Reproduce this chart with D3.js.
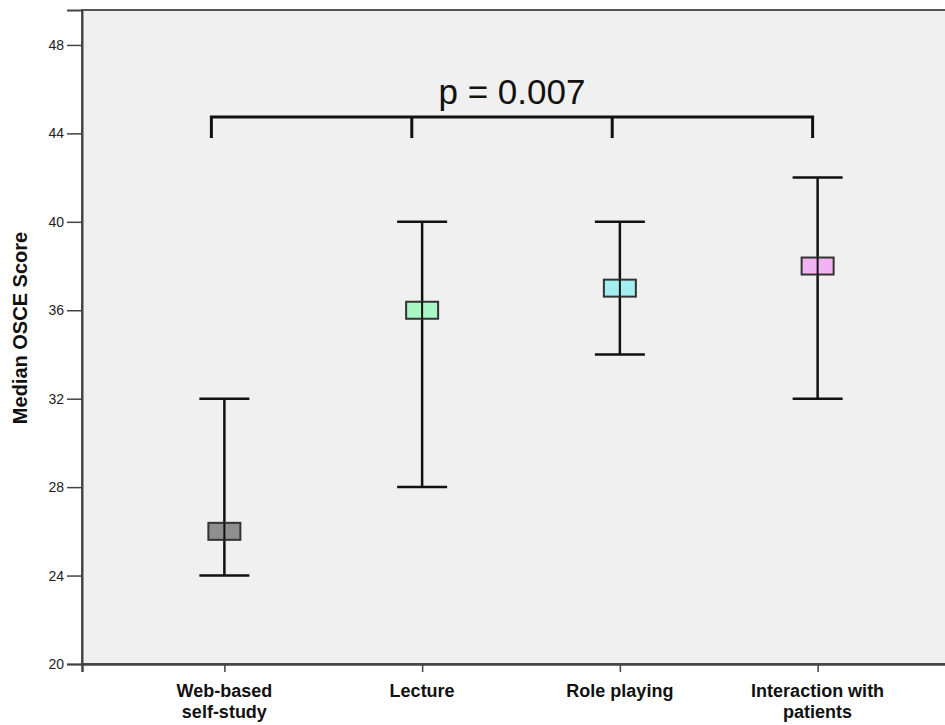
<html>
  <head>
    <style>
    body {
      margin: 0;
      background: #fff;
    }
    text {
      font-family: Arial, "Liberation Sans", sans-serif;
    }
    </style>
  </head>
  <body>
    <script src="https://d3js.org/d3.v7.min.js"></script>
    <script>
    var width = 945,
      height = 725;

    // data
    var categories = ["Web-based\nself-study", "Lecture", "Role playing", "Interaction with\npatients"];
    var medians = [26, 36, 37, 38];
    var lows = [24, 28, 34, 32];
    var highs = [32, 40, 40, 42];
    var colors = ["#8f8f8f", "#a8f7c4", "#a3eef0", "#f2b3f2"];
    var yTicks = [20, 24, 28, 32, 36, 40, 44, 48];
    var pLabel = "p = 0.007";

    var plot = {left: 82, top: 10, right: 960, bottom: 664};

    var svg = d3.select("body").append("svg")
        .attr("width", width)
        .attr("height", height);

    var x = d3.scalePoint()
        .domain(categories)
        .range([plot.left, plot.right])
        .padding(0.72);

    var y = d3.scaleLinear()
        .domain([20, 49.58])
        .range([plot.bottom, plot.top]);

    // plot background
    svg.append("rect")
        .attr("x", plot.left)
        .attr("y", plot.top)
        .attr("width", plot.right - plot.left)
        .attr("height", plot.bottom - plot.top)
        .attr("fill", "#f0f0f0")
        .attr("stroke", "#555")
        .attr("stroke-width", 2);

    // y axis
    var yAxis = svg.append("g")
        .attr("transform", "translate(" + plot.left + ",0)")
        .call(d3.axisLeft(y).tickValues(yTicks).tickSize(15).tickPadding(3));
    yAxis.select(".domain").attr("stroke", "#444").attr("stroke-width", 2);
    yAxis.selectAll(".tick line").attr("stroke", "#444").attr("stroke-width", 1.5);
    yAxis.selectAll(".tick text")
        .style("font-size", "14px")
        .attr("fill", "#222");

    // x axis
    var xAxis = svg.append("g")
        .attr("transform", "translate(0," + plot.bottom + ")")
        .call(d3.axisBottom(x).tickSize(8).tickFormat(""));
    xAxis.select(".domain").attr("stroke", "#444").attr("stroke-width", 2.5);
    xAxis.selectAll(".tick line").attr("stroke", "#444").attr("stroke-width", 1.5);

    svg.append("g").selectAll("text")
        .data(categories)
      .enter().append("text")
        .attr("x", function(d){ return x(d); })
        .attr("y", 697)
        .attr("text-anchor", "middle")
        .style("font-size", "18px")
        .style("font-weight", "bold")
        .attr("fill", "#111")
        .each(function(d){
          var t = d3.select(this);
          d.split("\n").forEach(function(line, i){
            t.append("tspan")
              .attr("x", x(d))
              .attr("dy", i ? 21 : 0)
              .text(line);
          });
        });

    // y title
    svg.append("text")
        .attr("transform", "translate(27,328) rotate(-90)")
        .attr("text-anchor", "middle")
        .style("font-size", "20px")
        .style("font-weight", "bold")
        .attr("fill", "#111")
        .text("Median OSCE Score");

    // error bars
    var bars = svg.append("g").selectAll("g")
        .data(categories)
      .enter().append("g");

    bars.append("line")
        .attr("x1", function(d){ return x(d); })
        .attr("x2", function(d){ return x(d); })
        .attr("y1", function(d, i){ return y(lows[i]); })
        .attr("y2", function(d, i){ return y(highs[i]); })
        .attr("stroke", "#111")
        .attr("stroke-width", 2.5);

    [lows, highs].forEach(function(arr){
      bars.append("line")
          .attr("x1", function(d){ return x(d) - 25; })
          .attr("x2", function(d){ return x(d) + 25; })
          .attr("y1", function(d, i){ return y(arr[i]); })
          .attr("y2", function(d, i){ return y(arr[i]); })
          .attr("stroke", "#111")
          .attr("stroke-width", 2.5);
    });

    bars.append("rect")
        .attr("x", function(d){ return x(d) - 16; })
        .attr("y", function(d, i){ return y(medians[i]) - 8.5; })
        .attr("width", 32)
        .attr("height", 17)
        .attr("fill", function(d, i){ return colors[i]; })
        .attr("stroke", "#333")
        .attr("stroke-width", 2);

    bars.append("line")
        .attr("x1", function(d){ return x(d); })
        .attr("x2", function(d){ return x(d); })
        .attr("y1", function(d, i){ return y(medians[i]) - 8.5; })
        .attr("y2", function(d, i){ return y(medians[i]) + 8.5; })
        .attr("stroke", "#111")
        .attr("stroke-width", 2);

    // significance bracket, spanning all groups with evenly spaced drops
    var bracketY = 117, bracketDrop = 21;
    var bLeft = x(categories[0]) - 13,
      bRight = x(categories[categories.length - 1]) - 5;
    var bx = d3.range(categories.length).map(function(i){
      return bLeft + (bRight - bLeft) * i / (categories.length - 1);
    });
    svg.append("path")
        .attr("d", "M" + bLeft + "," + (bracketY + bracketDrop) + "V" + bracketY + "H" + bRight + "V" + (bracketY + bracketDrop))
        .attr("fill", "none")
        .attr("stroke", "#111")
        .attr("stroke-width", 3);
    bx.slice(1, -1).forEach(function(v){
      svg.append("line")
          .attr("x1", v).attr("x2", v)
          .attr("y1", bracketY).attr("y2", bracketY + bracketDrop)
          .attr("stroke", "#111")
          .attr("stroke-width", 3);
    });

    svg.append("text")
        .attr("x", (bLeft + bRight) / 2)
        .attr("y", 104)
        .attr("text-anchor", "middle")
        .style("font-size", "35px")
        .attr("fill", "#111")
        .text(pLabel);
    </script>
  </body>
</html>
